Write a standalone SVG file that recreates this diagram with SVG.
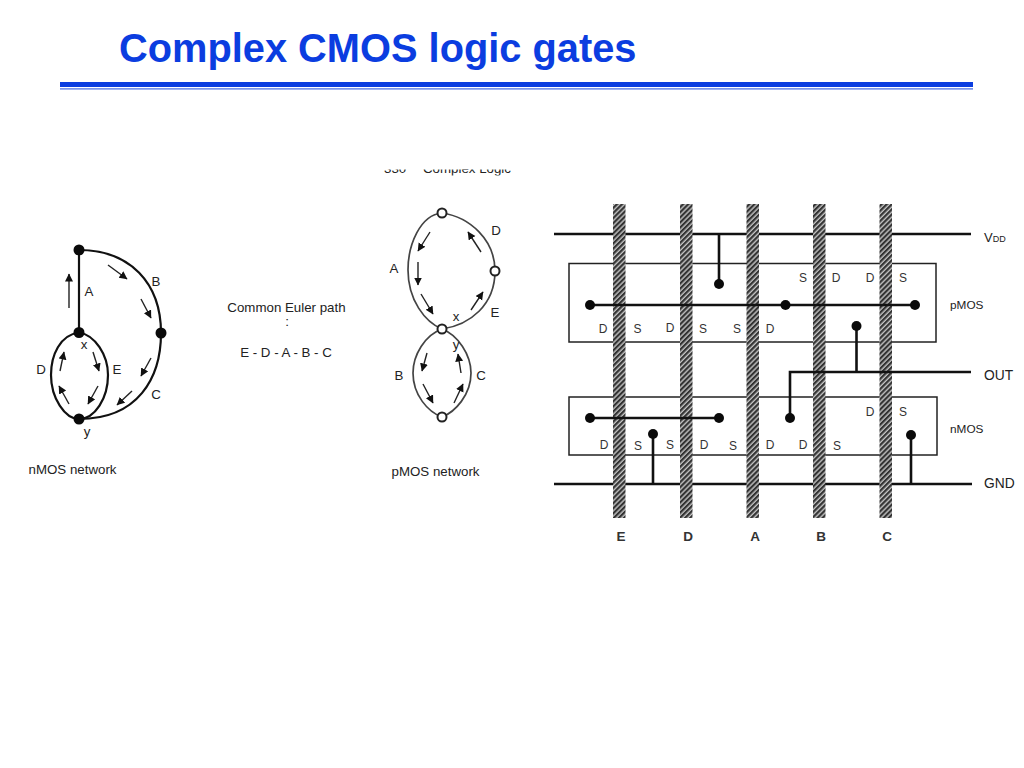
<svg xmlns="http://www.w3.org/2000/svg" width="1024" height="768" viewBox="0 0 1024 768">
<style>
text{font-family:"Liberation Sans",Arial,sans-serif;fill:#222}
.t{font-size:13.3px;text-anchor:middle}
.s{font-size:12px;text-anchor:middle;fill:#333}
.b{font-size:13.5px;text-anchor:middle;font-weight:bold;fill:#333}
.w{fill:none;stroke:#111;stroke-width:2.2}
.d{fill:none;stroke:#444;stroke-width:1.7}
.a{fill:none;stroke:#222;stroke-width:1.4;marker-end:url(#ah)}
.r{fill:none;stroke:#111;stroke-width:2.6}
.l{fill:none;stroke:#222;stroke-width:1.5}
.dot{fill:#0a0a0a}
.o{fill:#fff;stroke:#222;stroke-width:2}
.poly{fill:url(#hatch)}
</style>
<defs>
<pattern id="hatch" width="3.6" height="3.6" patternUnits="userSpaceOnUse" patternTransform="rotate(-45)">
<rect width="3.6" height="3.6" fill="#c4c4c4"/><rect width="3.6" height="2.2" fill="#333"/>
</pattern>
<marker id="ah" markerUnits="userSpaceOnUse" markerWidth="9" markerHeight="9" refX="7.5" refY="4" orient="auto">
<path d="M0 0L8 4L0 8z" fill="#111"/>
</marker>
<clipPath id="cut"><rect x="370" y="169.5" width="160" height="6"/></clipPath>
</defs>

<g id="title">
<text x="119" y="62" font-size="39.8" font-weight="bold" style="fill:#0b3de0">Complex CMOS logic gates</text>
<rect x="60" y="82" width="913" height="5" fill="#0b3de0"/>
<rect x="60" y="88.3" width="913" height="1.2" fill="#3f66e6"/>
</g>

<g id="nmos-network">
<g id="nmos-edges">
<path class="w" d="M79 250V332.5"/>
<path class="w" d="M79 250C130 250 161 283 161 333"/>
<path class="w" d="M161 333C161 378 138 419 79 419"/>
<path class="w" d="M79 332.5C60 335 51 355 51 375C51 398 65 419 79 419C95 419 108 398 108 375C108 355 95 335 79 332.5"/>
</g>
<g id="nmos-arrows">
<path class="a" d="M69 308V274"/><path class="a" d="M108 265L127 279"/><path class="a" d="M141 299L151 318"/>
<path class="a" d="M151 358L141 376"/><path class="a" d="M132 391L117 405"/><path class="a" d="M98 386L88 404"/>
<path class="a" d="M93 352L99 371"/><path class="a" d="M69 404L59 386"/><path class="a" d="M60 371L64 352"/>
</g>
<g id="nmos-nodes">
<circle class="dot" cx="79" cy="250" r="5.5"/><circle class="dot" cx="79" cy="332.5" r="5.5"/>
<circle class="dot" cx="161" cy="333" r="5.5"/><circle class="dot" cx="79" cy="419" r="5.5"/>
</g>
<text class="t" x="89" y="295.5">A</text><text class="t" x="156" y="285.5">B</text><text class="t" x="84" y="349">x</text>
<text class="t" x="41" y="373.5">D</text><text class="t" x="117" y="373.5">E</text><text class="t" x="156" y="398.5">C</text><text class="t" x="87" y="436">y</text>
<text class="t" x="72.5" y="473.5">nMOS network</text>
</g>

<g id="euler">
<text class="t" x="286.5" y="311.5">Common Euler path</text>
<text class="t" x="287" y="326">:</text>
<text class="t" x="286" y="356.5">E - D - A - B - C</text>
</g>

<g id="pmos-network">
<g clip-path="url(#cut)"><text x="384" y="172.5" font-size="13.3">330</text><text x="423" y="172.5" font-size="13.3">Complex Logic</text></g>
<g id="pmos-edges">
<path class="d" d="M442 213C420 215 408 245 408 270C408 300 425 322 442 329"/>
<path class="d" d="M442 329C470 325 495 305 495 271C495 240 470 217 442 213"/>
<path class="d" d="M442 329C425 335 413 355 413 373C413 395 428 412 442 417C455 412 471 395 471 373C471 355 458 335 442 329"/>
</g>
<g id="pmos-arrows">
<path class="a" d="M430 232L418 251"/><path class="a" d="M418 262V285"/><path class="a" d="M421 294L433 314"/>
<path class="a" d="M471 310L483 292"/><path class="a" d="M481 252L468 232"/><path class="a" d="M427 353L422 371"/>
<path class="a" d="M423 384L433 403"/><path class="a" d="M454 403L463 384"/><path class="a" d="M461 373L458 354"/>
</g>
<g id="pmos-nodes">
<circle class="o" cx="442" cy="213" r="4.5"/><circle class="o" cx="495" cy="271" r="4.5"/>
<circle class="o" cx="442" cy="329" r="4.5"/><circle class="o" cx="442" cy="417" r="4.5"/>
</g>
<text class="t" x="496" y="234.5">D</text><text class="t" x="394" y="272.5">A</text><text class="t" x="456" y="321">x</text>
<text class="t" x="495" y="316.5">E</text><text class="t" x="456" y="349">y</text><text class="t" x="399" y="379.5">B</text><text class="t" x="481" y="379.5">C</text>
<text class="t" x="435.5" y="475.5">pMOS network</text>
</g>

<g id="layout">
<g id="rails">
<path class="r" d="M554 234H971"/>
<path class="r" d="M554 484H972"/>
</g>
<g id="diffusion">
<rect class="l" x="569" y="263.5" width="367" height="78.5"/>
<rect class="l" x="569" y="397" width="368" height="58"/>
</g>
<g id="poly">
<rect id="poly-e" class="poly" x="613" y="204" width="12.5" height="314"/>
<rect id="poly-d" class="poly" x="680" y="204" width="12.5" height="314"/>
<rect id="poly-a" class="poly" x="746.5" y="204" width="12.5" height="314"/>
<rect id="poly-b" class="poly" x="813" y="204" width="12.5" height="314"/>
<rect id="poly-c" class="poly" x="879.5" y="204" width="12.5" height="314"/>
</g>
<g id="connectors">
<path class="r" d="M590 305H915"/>
<path class="r" d="M719 234V284"/>
<path class="r" d="M856.5 326V372"/>
<path class="r" d="M790 418V372H971"/>
<path class="r" d="M590 418H719"/>
<path class="r" d="M653 434V484"/>
<path class="r" d="M911 435V484"/>
</g>
<g id="contacts">
<circle class="dot" cx="590" cy="305" r="5"/><circle class="dot" cx="785.5" cy="305" r="5"/><circle class="dot" cx="915" cy="305" r="5"/>
<circle class="dot" cx="719" cy="284" r="5"/><circle class="dot" cx="856.5" cy="326" r="5"/><circle class="dot" cx="790" cy="418" r="5"/>
<circle class="dot" cx="590" cy="418" r="5"/><circle class="dot" cx="719" cy="418" r="5"/><circle class="dot" cx="653" cy="434" r="5"/><circle class="dot" cx="911" cy="435" r="5"/>
</g>
<g id="sd-labels">
<text class="s" x="603" y="332.5">D</text><text class="s" x="637.5" y="332.5">S</text><text class="s" x="670" y="331.5">D</text><text class="s" x="703" y="332.5">S</text><text class="s" x="737" y="332.5">S</text><text class="s" x="770" y="332.5">D</text>
<text class="s" x="803" y="281.5">S</text><text class="s" x="836" y="281.5">D</text><text class="s" x="870" y="281.5">D</text><text class="s" x="903" y="281.5">S</text>
<text class="s" x="604" y="449">D</text><text class="s" x="638" y="449.5">S</text><text class="s" x="670" y="448.5">S</text><text class="s" x="704" y="448.5">D</text><text class="s" x="733" y="449.5">S</text><text class="s" x="770" y="449">D</text><text class="s" x="803" y="449">D</text><text class="s" x="837" y="449.5">S</text>
<text class="s" x="870" y="415.5">D</text><text class="s" x="903" y="415.5">S</text>
</g>
<g id="signal-labels">
<text x="984" y="242" font-size="13">V<tspan font-size="9">DD</tspan></text>
<text x="950" y="308.5" font-size="11.8">pMOS</text>
<text x="984" y="379.5" font-size="13.8">OUT</text>
<text x="950" y="432.5" font-size="11.8">nMOS</text>
<text x="984" y="488" font-size="13.8">GND</text>
</g>
<g id="gate-labels">
<text class="b" x="621" y="541">E</text><text class="b" x="688" y="541">D</text><text class="b" x="755" y="541">A</text><text class="b" x="821" y="541">B</text><text class="b" x="887" y="541">C</text>
</g>
</g>
</svg>
